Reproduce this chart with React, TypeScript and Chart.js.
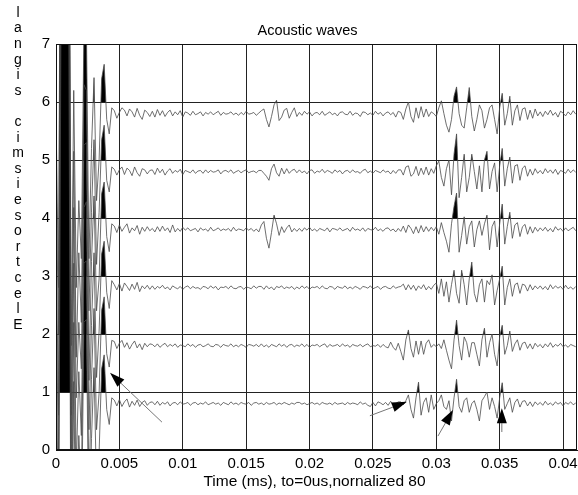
import React, { useEffect, useRef } from "react";
import { Chart, registerables } from "chart.js";

Chart.register(...registerables);

// ---- data -------------------------------------------------------------
const SAMPLE_STEP_MS = 0.0002; // one sample every 0.2 us (in ms)
const TRACE_LEVELS = [1, 2, 3, 4, 5, 6]; // gridline each trace is clipped at (fill above)
const TRACE_OFFSETS = [0.8, 1.8, 2.8, 3.8, 4.8, 5.8]; // baseline of each trace

// amplitudes in hundredths of a unit, relative to each trace baseline
const TRACE_1 = [
  0, -300, 700, 700, 700, 700, -400, 38, -300, -150, -250, 140, 145, -260, -60, 62, -150, -85, 60, 84, -10, -36, 10,
  6, -4, 7, -5, 3, 8, -6, 4, -3, 6, -5, 2, 5, -3, 2,
  3, -2, 4, -3, 2, -1, 3, -4, 1, 2, -2, 3, -1, 0, 2, -3, 1, 2, -2, 1, -1, 3, -2, 0, 2, -1, 1, -3, 2, 0, -2, 3, -1, 1, -2, 2, 0, -1, 2, -3, 1, 2, -1,
  1, -2, 2, -1, 0, 2, -2, 1, -1, 2, 0, -2, 1, -1, 2,
  2, -1, 1, -2, 0, 2, -1, 1, -2, 2, 0, -1, 1, -2, 2, -1, 0, 1, -2, 2, -1, 1, 0, -2, 3, -1, 1, -3, -5, 2, -4, 3, 1, -2, 2, -3, 4, -2, 0, 3,
  3, -2, 5, 15, -10, -25, 10, 37, -20, 2, 10, -15, 15, -10, 0, 5, 15, -5, -10, 5, -30, 10, 42, -5, -15, 5, 10, -15, 0, 5,
  -10, -30, 5, 12, 20, -10, 10, -5, -25, 10, 36, -10, 0, 10, -15, 2, 8, -6, 4, 5, -4, 3, -5, 3, -2,
  2, -3, 4, -2, 1, -3, 3, -1, 2, -4, 2, -1, 3, -2, 1,
];
const TRACE_2 = [
  0, -310, 700, 700, 700, 700, -390, 40, -300, -155, -245, 142, 146, -255, -58, 64, -145, -82, 61, 84, -14, -37, 9,
  7, -5, 4, 9, -3, 5, -6, 2, 8, -4, 3, -7, 4, -2, 3,
  2, -2, 3, -3, 1, 4, -2, 2, -1, 3, -3, 1, 0, -2, 3, -1, 2, -3, 1, 2, -2, 0, 3, -1, -2, 2, 1, -3, 2, 0, -1, 3, -2, 1, -2, 2, 0, -3, 2, 1, -1, 2, -2,
  3, -2, 1, -3, 2, 0, -2, 3, -1, 2, -3, 1, 2, -2, 1,
  -1, 3, -2, 2, -3, 1, 0, 2, -2, 1, 3, -3, 2, -1, 0, 2, -2, 3, -1, 1, -3, 2, 0, -1, 2, -2, 1, 3, -2, 0, -1, 2, -3, 2, -2, -4, 6, -3, -8, 4,
  -10, -25, 10, 27, -5, -20, 8, -15, 8, -15, 4, 10, -3, 2, -2, 3, -5, 10, -8, -25, -40, 10, 44, 0, -25, 15, 5, -20, 5, 5,
  -15, -35, 10, 30, -20, 5, 20, -15, -35, 15, 35, -15, 0, 25, -10, 3, 10, -8, 4, 6, -5, 3, -6, 4, -2,
  2, -4, 3, -2, 5, -3, 2, -1, 4, -2, 1, -3, 2, 0, -2,
];
const TRACE_3 = [
  0, -290, 700, 700, 700, 700, -410, 42, -310, -145, -255, 138, 148, -245, -65, 60, -155, -75, 58, 80, -8, -36, 12,
  5, -4, 7, -6, 8, 2, -5, 6, -3, 9, -7, 3, -2, 4, -3,
  3, -3, 2, -1, 4, -2, 1, -4, 3, 0, -2, 2, -3, 1, 3, -2, 2, -1, 0, -3, 2, 1, -2, 3, -1, 2, -4, 1, 0, 2, -2, 3, -1, -2, 1, 2, -3, 1, 0, -2, 3, -1, 2,
  2, -3, 3, -2, 1, -4, 2, 0, 3, -2, 1, -1, 2, -3, 1,
  -2, 3, -1, 2, -3, 1, 0, 2, -2, 3, -1, -2, 2, 1, -3, 2, 0, -1, 3, -2, 1, -2, 2, 0, -3, 2, 1, -1, 3, -2, 0, 2, -3, 1, 2, -1, -2, 3, -1, 1,
  2, 6, -4, 5, -3, 4, -5, 3, -2, 5, -4, 2, -3, 4, 8, -10, 15, -15, 10, -25, 5, 30, -10, -27, 30, 5, -30, 15, 44, -10,
  -25, 5, 15, -25, 12, 5, 22, -30, -5, 15, 37, -30, 0, 15, -15, 5, 8, -10, 6, 4, -6, 5, -4, 3, -2,
  3, -3, 2, -4, 5, -2, 3, -1, 2, -3, 4, -2, 1, -3, 2,
];
const TRACE_4 = [
  0, -320, 700, 700, 700, 700, -380, 38, -290, -160, -240, 145, 150, -260, -55, 58, -140, -85, 62, 82, -12, -38, 10,
  6, -5, 8, -3, 4, 10, -6, 3, -2, 7, -8, 4, -3, 5, -2,
  2, -4, 5, -3, 6, -2, 3, -5, 8, -4, 2, -3, 4, -1, 3, -2, 0, 2, -4, 3, -1, 1, -3, 4, -2, 0, 3, -2, 1, -1, 2, -3, 4, -2, 1, 0, -2, 3, -1, 2, -3, 1, -4,
  8, 14, -15, -32, -5, 25, 10, -10, 5, -5, 3, 8, -4, 2, -3,
  2, -3, 3, -1, 4, -2, 1, -3, 2, 0, -2, 3, -4, 2, 1, -1, 3, -2, 0, 2, -3, 4, -1, 1, -2, 3, -3, 2, 0, -1, 4, -2, 1, -3, 2, 3, -2, 1, -4, 2,
  -3, 6, -5, 8, 2, -7, 5, -6, 7, -4, 5, -3, 4, -2, 5, -8, 12, -5, -20, -39, 10, 40, 63, -39, -10, 22, -25, 5, 15, -30,
  0, 15, -10, 10, 25, -35, 5, 15, -30, 10, 44, -25, 5, 30, -15, 8, 12, -12, 5, 9, -8, 5, -6, 4, -3,
  3, -2, 4, -3, 2, -4, 5, -1, 2, -3, 3, -2, 1, 4, -2,
];
const TRACE_5 = [
  0, -280, 700, 700, 700, 700, -420, 35, -320, -140, -260, 150, 140, -240, -70, 55, -160, -70, 55, 80, -15, -35, 8,
  4, -6, 3, 8, -5, 6, 2, -7, 8, -2, -8, 5, 3, -4, 2,
  3, -5, 6, -2, 4, -6, 1, 5, -3, 2, -1, 4, -5, 2, 0, -2, 3, -3, 1, 2, -3, 3, -2, 2, -1, 0, 3, -4, 1, 2, -1, 3, -3, 0, 2, -2, 1, 3, -2, 0, 1, -2, 2,
  2, -3, -8, -15, 5, 13, -2, -8, 6, -4, 5, -3, 2, 4, -2,
  3, -2, 1, -4, 2, 3, -3, 1, -1, 4, -2, 2, 0, -3, 3, -1, 2, -4, 1, 2, -2, 3, -1, 0, -3, 2, 4, -2, 1, -3, 2, 0, -2, 3, -1, 1, -4, 2, -3, 3,
  3, -6, 8, 10, -8, -4, 9, -7, 6, -5, 8, -6, 5, -3, 10, 18, -10, -25, 5, 20, -40, 30, 65, -45, -10, 30, -35, -10, 30, 0,
  -30, 10, -35, 20, 35, -30, 0, 15, -35, 10, 40, -25, 5, 25, -20, 10, 12, -15, 6, 10, -8, 4, -6, 5, -3,
  2, -4, 5, -2, 3, -3, 4, -5, 2, 0, -3, 4, -2, 3, -1,
];
const TRACE_6 = [
  0, -300, 700, 700, 700, 700, -400, 40, -300, -150, -250, 140, 145, -250, -60, 62, -150, -80, 60, 85, -10, -35, 10,
  5, -8, 2, 10, 6, -4, 8, 3, -6, 9, -3, -10, 6, 2, -5,
  4, -6, 7, -3, 5, -5, 2, 6, -4, 3, -2, 5, -6, 3, 1, -3, 4, -2, 0, 3, -4, 2, -1, 3, -2, 1, 4, -3, 2, -1, 0, 3, -2, 1, -3, 2, -2, 4, -1, 0, 2, -3, 1,
  5, 8, -10, -23, -5, 15, 23, -12, -6, 6, 9, -8, 2, 10, -5,
  2, -3, 4, -1, 3, -4, 1, 2, -2, 4, -3, 0, 3, -2, 1, -4, 2, 3, -1, -2, 4, -3, 1, 0, -5, 3, 2, -2, 1, -3, 4, -1, 2, -4, 1, 3, -2, 2, -6, 4,
  2, -10, 8, 20, -5, -15, 10, -8, 12, -6, 8, -5, 3, 0, -5, 10, 22, 0, -20, -32, -10, 30, 46, 0, -20, -25, 10, 45, -5, -30,
  -10, 15, 5, -25, -10, 10, 15, -10, -35, 10, 35, -20, 0, 30, -20, 5, 15, -12, 8, 10, -10, 6, -8, 8, -4,
  3, -5, 4, -2, 6, -3, 2, -6, 4, 1, -4, 3, -2, 5, -1,
];
const TRACES = [TRACE_1, TRACE_2, TRACE_3, TRACE_4, TRACE_5, TRACE_6];

const X_TICKS = [0, 0.005, 0.01, 0.015, 0.02, 0.025, 0.03, 0.035, 0.04];
const X_TICK_LABELS = ["0", "0.005", "0.01", "0.015", "0.02", "0.025", "0.03", "0.035", "0.04"];
const Y_TICKS = [0, 1, 2, 3, 4, 5, 6, 7];
const X_MAX = 0.0411;

// annotation arrows: [t_from, v_from, t_to, v_to]
const ARROWS = [
  [0.00836, 0.48, 0.00426, 1.33],
  [0.02476, 0.59, 0.02768, 0.83],
  [0.03013, 0.24, 0.03131, 0.69],
  [0.03517, 0.31, 0.03517, 0.72],
];

const TITLE = "Acoustic waves";
const X_TITLE = "Time (ms), to=0us,nornalized 80";
const Y_TITLE_STACKED = "langis cimsiesortcelE";

const FONT = '"Liberation Sans", Arial, Helvetica, sans-serif';

const decorPlugin = {
  id: "decor",
  afterDatasetsDraw(chart: any) {
    const { ctx, chartArea: a, scales } = chart;
    const xs = scales.x;
    const ys = scales.y;
    ctx.save();
    // frame
    ctx.strokeStyle = "#111";
    ctx.lineWidth = 1;
    ctx.strokeRect(a.left + 0.5, a.top + 0.5, a.right - a.left - 1, a.bottom - a.top - 1);
    // arrows
    for (const [t0, v0, t1, v1] of ARROWS) {
      const x0 = xs.getPixelForValue(t0);
      const y0 = ys.getPixelForValue(v0);
      const x1 = xs.getPixelForValue(t1);
      const y1 = ys.getPixelForValue(v1);
      const ang = Math.atan2(y1 - y0, x1 - x0);
      const headLen = 15;
      const headHalf = 5;
      const bx = x1 - headLen * Math.cos(ang);
      const by = y1 - headLen * Math.sin(ang);
      ctx.strokeStyle = "#777";
      ctx.lineWidth = 1;
      ctx.beginPath();
      ctx.moveTo(x0, y0);
      ctx.lineTo(bx, by);
      ctx.stroke();
      ctx.fillStyle = "#000";
      ctx.beginPath();
      ctx.moveTo(x1, y1);
      ctx.lineTo(bx + headHalf * Math.sin(ang), by - headHalf * Math.cos(ang));
      ctx.lineTo(bx - headHalf * Math.sin(ang), by + headHalf * Math.cos(ang));
      ctx.closePath();
      ctx.fill();
    }
    // texts
    ctx.fillStyle = "#000";
    ctx.textAlign = "center";
    ctx.textBaseline = "middle";
    ctx.font = `14.5px ${FONT}`;
    ctx.fillText(TITLE, (a.left + a.right) / 2 - 9, a.top - 13);
    ctx.font = `15.5px ${FONT}`;
    ctx.fillText(X_TITLE, (a.left + a.right) / 2 - 2, a.bottom + 32);
    ctx.font = `14px ${FONT}`;
    Array.from(Y_TITLE_STACKED).forEach((ch, i) => {
      ctx.fillText(ch, 18, 13 + i * 15.6);
    });
    ctx.restore();
  },
};

export default function App() {
  const ref = useRef<HTMLCanvasElement | null>(null);

  useEffect(() => {
    if (!ref.current) return;
    const datasets = TRACES.map((amps, j) => ({
      data: amps.map((a, k) => ({ x: k * SAMPLE_STEP_MS, y: TRACE_OFFSETS[j] + a / 100 })),
      borderColor: "#4a4a4a",
      borderWidth: 0.8,
      pointRadius: 0,
      tension: 0,
      fill: { target: { value: TRACE_LEVELS[j] }, above: "#000", below: "rgba(0,0,0,0)" },
    }));
    const chart = new Chart(ref.current, {
      type: "line",
      data: { datasets },
      options: {
        animation: false,
        responsive: false,
        devicePixelRatio: 1,
        parsing: false,
        layout: { padding: { top: 44, right: 1, left: 0, bottom: 0 } },
        plugins: { legend: { display: false }, tooltip: { enabled: false }, title: { display: false } },
        scales: {
          x: {
            type: "linear",
            min: 0,
            max: X_MAX,
            afterBuildTicks: (s: any) => {
              s.ticks = X_TICKS.map((v) => ({ value: v }));
            },
            afterFit: (s: any) => {
              s.height = 45;
              s.paddingLeft = 0;
              s.paddingRight = 0;
            },
            ticks: {
              autoSkip: false,
              maxRotation: 0,
              padding: 5,
              color: "#000",
              font: { family: FONT, size: 15 },
              callback: (_v: any, i: number) => X_TICK_LABELS[i],
            },
            grid: { color: "#222", lineWidth: 1, drawTicks: false },
            border: { display: true, color: "#111" },
          },
          y: {
            type: "linear",
            min: 0,
            max: 7,
            afterBuildTicks: (s: any) => {
              s.ticks = Y_TICKS.map((v) => ({ value: v }));
            },
            afterFit: (s: any) => {
              s.width = 56;
              s.paddingTop = 0;
              s.paddingBottom = 0;
            },
            ticks: {
              autoSkip: false,
              padding: 6,
              color: "#000",
              font: { family: FONT, size: 15 },
              callback: (v: any) => String(v),
            },
            grid: { color: "#222", lineWidth: 1, drawTicks: false },
            border: { display: true, color: "#111" },
          },
        },
      },
      plugins: [decorPlugin],
    } as any);
    return () => chart.destroy();
  }, []);

  return (
    <div style={{ position: "fixed", left: 0, top: 0, width: 578, height: 495, background: "#fff" }}>
      <canvas ref={ref} width={578} height={495} style={{ display: "block" }} />
    </div>
  );
}
